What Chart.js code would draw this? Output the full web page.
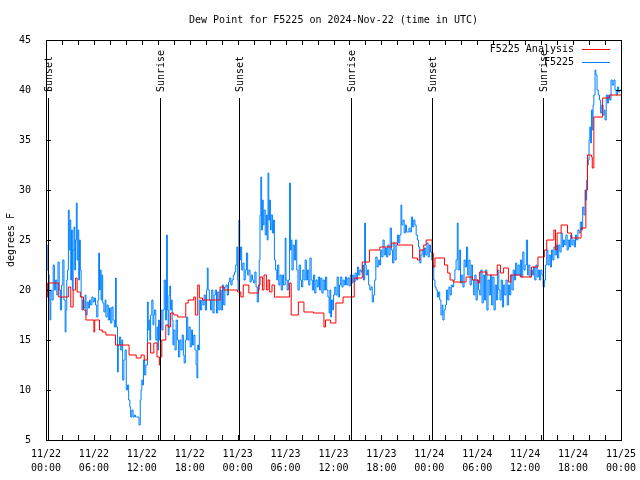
<!DOCTYPE html>
<html><head><meta charset="utf-8">
<script src="https://cdn.jsdelivr.net/npm/chart.js@4"></script>
<style>html,body{margin:0;padding:0;background:#fff}canvas{display:block}</style>
</head><body>
<canvas id="c" width="640" height="480"></canvas>
<script>
// Hours since 11/22 00:00 UTC and dew point (deg F) for the observed station
const obsHours = [
0.0,0.05,0.15,0.3,0.4,0.5,0.6,0.75,0.9,1.05,
1.2,1.35,1.5,1.65,1.8,1.95,2.1,2.25,2.4,2.5,
2.6,2.7,2.8,2.9,3.0,3.1,3.2,3.3,3.4,3.5,
3.6,3.7,3.8,3.9,4.0,4.1,4.2,4.3,4.4,4.5,
4.6,4.75,4.9,5.0,5.15,5.3,5.45,5.6,5.75,5.9,
6.05,6.2,6.35,6.5,6.6,6.7,6.8,6.9,7.0,7.1,
7.25,7.4,7.5,7.65,7.8,7.95,8.1,8.25,8.4,8.55,
8.7,8.8,8.95,9.05,9.2,9.35,9.5,9.6,9.75,9.9,
10.05,10.2,10.35,10.5,10.6,10.75,10.9,11.05,11.2,11.35,
11.5,11.65,11.8,11.9,12.0,12.1,12.2,12.35,12.5,12.7,
12.8,12.9,13.0,13.1,13.25,13.4,13.5,13.6,13.75,13.9,
14.0,14.1,14.2,14.35,14.5,14.65,14.8,14.95,15.1,15.2,
15.3,15.4,15.5,15.6,15.7,15.8,15.9,16.0,16.15,16.3,
16.45,16.6,16.75,16.9,17.05,17.2,17.3,17.45,17.6,17.75,
17.9,18.05,18.2,18.35,18.5,18.65,18.8,18.9,19.0,19.1,
19.2,19.35,19.5,19.65,19.8,19.95,20.1,20.2,20.3,20.45,
20.6,20.75,20.9,21.05,21.2,21.35,21.5,21.65,21.8,21.95,
22.1,22.25,22.4,22.55,22.7,22.85,23.0,23.15,23.3,23.45,
23.6,23.75,23.9,24.0,24.05,24.15,24.25,24.35,24.5,24.65,
24.8,24.95,25.1,25.25,25.4,25.55,25.7,25.85,26.0,26.15,
26.3,26.45,26.6,26.7,26.8,26.9,27.0,27.1,27.2,27.3,
27.45,27.6,27.7,27.8,27.9,28.0,28.1,28.2,28.35,28.5,
28.6,28.75,28.9,29.0,29.15,29.3,29.45,29.6,29.75,29.95,
30.05,30.2,30.35,30.5,30.6,30.7,30.8,30.95,31.1,31.25,
31.4,31.55,31.7,31.85,32.0,32.15,32.3,32.45,32.6,32.75,
32.9,33.05,33.2,33.35,33.5,33.65,33.8,33.95,34.1,34.25,
34.4,34.55,34.7,34.85,35.0,35.15,35.3,35.45,35.55,35.65,
35.75,35.9,36.0,36.15,36.3,36.45,36.6,36.75,36.9,37.05,
37.2,37.35,37.5,37.65,37.8,37.95,38.1,38.25,38.4,38.55,
38.7,38.85,39.0,39.15,39.3,39.45,39.6,39.75,39.9,40.0,
40.1,40.25,40.4,40.55,40.7,40.85,41.0,41.15,41.3,41.45,
41.6,41.75,41.9,42.05,42.2,42.35,42.5,42.65,42.8,42.95,
43.1,43.25,43.4,43.55,43.7,43.85,44.0,44.15,44.3,44.45,
44.55,44.7,44.85,45.0,45.15,45.3,45.45,45.6,45.75,45.9,
46.05,46.2,46.35,46.5,46.65,46.8,46.95,47.1,47.25,47.4,
47.55,47.7,47.85,48.0,48.15,48.3,48.4,48.55,48.7,48.85,
49.0,49.15,49.3,49.45,49.6,49.7,49.85,50.0,50.15,50.3,
50.45,50.6,50.75,50.9,51.05,51.2,51.35,51.5,51.6,51.75,
51.9,52.05,52.2,52.35,52.5,52.65,52.8,52.95,53.1,53.25,
53.4,53.55,53.7,53.85,54.0,54.15,54.3,54.45,54.6,54.75,
54.9,55.05,55.2,55.35,55.5,55.65,55.8,55.95,56.1,56.25,
56.4,56.55,56.7,56.85,57.0,57.15,57.3,57.45,57.6,57.75,
57.9,58.05,58.2,58.35,58.5,58.65,58.8,58.95,59.1,59.25,
59.4,59.55,59.7,59.85,60.0,60.15,60.3,60.45,60.6,60.75,
60.9,61.05,61.2,61.35,61.5,61.65,61.8,61.95,62.1,62.25,
62.4,62.55,62.7,62.85,63.0,63.15,63.3,63.45,63.6,63.75,
63.9,64.05,64.2,64.35,64.5,64.65,64.8,64.95,65.1,65.25,
65.4,65.55,65.7,65.85,66.0,66.15,66.3,66.45,66.6,66.75,
66.9,67.05,67.2,67.35,67.5,67.6,67.7,67.8,67.9,68.0,
68.1,68.2,68.3,68.4,68.5,68.6,68.75,68.85,69.0,69.15,
69.3,69.45,69.6,69.75,69.9,70.0,70.15,70.3,70.45,70.6,
70.75,70.9,71.1,71.25,71.4,71.55,71.7,71.85,72.0
];
const obsDew = [
22,24.5,22,21.5,19,17,20,19,22.5,20,
21,19.5,22.8,20,18,20.5,23,19,15.8,18,
21,22,28,24,27,21,26,20,24,26.3,
22,25,28.7,23,26,21,25,22,19.3,18,
19,18.2,19.5,17.5,18.8,18.2,19,18.5,19.3,18.8,
19.2,18.5,17.3,19,23.7,20,22,19,21.5,18.7,
17.8,19,17.3,18.5,17,18.2,16.7,18.3,17,16.3,
21.2,16.3,11.8,14.5,15.3,14,15,11,13,14,
10,10.5,9,8.3,7.3,8,7.3,7.5,7.3,7.3,
7.3,6.5,9,10,11,10.5,13,11.5,12.5,18.8,
16,17,15,17.5,19,16.5,17.5,18,15,16.3,
14,17,15,18,16,18,21,17,25.5,18,
15.5,19.5,20.4,18,19,17,14.5,16,14,17,
15,13.3,15,14,15.5,13.5,12.7,15,17.3,15,
16.3,14.3,16,14.5,15.5,14,12.5,11.2,14.5,14,
19,18,19,18.5,19.5,18,20,22.2,20,19,
18,20,17.7,19.5,20,17.7,19.8,18,20,18,
20.5,18.5,20.3,20.5,19.5,20.8,21.2,20.5,21,21.5,
21.8,22.5,24.3,21,20,27,23,24.3,22,22.7,
21,22,23.7,21.5,22,20.8,21.5,21,20.7,21.8,
20.3,18.8,20,23,27.5,31.3,26,29,26.5,28,
25.5,27.5,25,31.7,27,29,26,27.5,25.7,27,
23,22,21,22.5,20.5,21.5,20,21.5,20.5,25.2,
21,20,21,30.7,24,25,22,24.5,23,25,
22,20,22.5,21,20.3,22,21,23,21,22,
20.5,23.2,21,20,21.5,19.7,21,20.3,21.3,20,
21.2,19.7,21,20,21.3,20,19.3,17.7,20,17.3,
19,18,19.5,20.3,19.5,21.3,19.3,20.5,21.3,20.3,
21,20.5,21.3,20.5,21.2,20.4,21.5,20.7,21.5,20.8,
21.7,21,22.3,21.5,22,21.8,22.5,21,26.7,22.5,
21.5,22,20.5,20,20.3,18.8,19.5,21,23.3,22.3,
23,22.5,24,23.3,25,23.5,24.2,23.3,24.5,23.5,
26.2,24,22.7,24.7,23,24.5,25.5,24.7,25.5,28.5,
26.5,27,25.7,26.5,25.8,25.8,26.2,25.8,27.3,26.3,
27,26.5,25.5,25,24.3,22.7,23.5,24,23.3,24.2,
23.5,24.7,23.3,24.5,23.8,23,22.5,21,20.3,20,
19.3,19.8,19,17.5,18.5,17,18,18.5,20,19,
20.3,19.5,20.5,20.3,21,22,23,26.7,22,24,
20.7,21.5,20.3,23,22.3,24.3,21.5,23,20.5,22.5,
21,19.5,21.5,19,21,20,19.5,22,18.7,21.5,
19,22,18,21,19.5,21.5,18.5,21.3,18,20.5,
19,22,20,19,21,18.3,20.5,19.5,21,18.5,
20.5,19.5,21.5,20,22,21,22.7,21.5,22.5,21.5,
23,21.3,23.8,22,22.5,25,21.5,22.5,21.3,22,
21.5,22.3,21,22.5,21.3,22,21,22,21.5,20.3,
21,22.5,24,22.5,23.5,22.3,24,23,24.3,23.5,
24.5,23.2,24.5,23.8,25.7,24.3,25,24.5,25.5,24,
25,24.3,25.5,24.5,25,24.3,25.5,25,26,25.7,
26.8,26,28.3,27.5,30,29,31,32.5,33,35,
36.3,34.7,38,36,38.5,39.5,42,41.5,40,39.5,
39,37.7,38.5,37.5,38,37,39.5,38.7,39.5,39,
41,40.5,41,40,39.5,40.3,39.8,40,40
];
// Analysis: hour at which each value starts, and the value (deg F)
const anaHours = [
0,0.2,1.6,2.8,3.1,3.4,3.7,3.9,4.3,4.7,
5.0,6.0,6.1,6.7,7.05,7.5,8.7,10.4,11.3,11.9,
12.3,12.7,13.1,13.5,13.9,14.2,14.3,14.5,15.0,15.3,
15.6,16.0,16.5,17.5,17.8,18.5,18.7,19.0,19.2,19.6,
21.8,22.3,24.0,24.4,24.7,25.4,26.6,26.8,27.1,27.3,
27.6,27.8,28.0,28.3,28.6,30.5,30.7,31.6,32.3,33.5,
34.8,35.0,35.6,36.3,37.2,38.6,39.6,40.5,41.8,43.3,
44.0,45.9,46.5,46.8,47.3,47.6,48.35,48.5,48.7,49.9,
50.3,50.6,51.0,52.6,53.4,54.1,54.3,55.2,56.5,56.9,
57.3,57.9,58.2,59.4,60.8,61.6,62.4,62.7,63.6,63.8,
64.0,64.5,65.3,65.8,67.0,67.6,67.8,68.3,68.4,68.6,
69.7,70.6,72
];
const anaDew = [
19.3,20.7,19.3,20.3,18.3,20,21.2,19.8,19.3,18,
17,15.8,17,16,15.8,15.5,14.5,13.5,13.2,13.5,
13,14.7,13.7,14.7,13.3,12.5,13.3,15,16.5,16.3,
17.7,17.5,17.3,18.7,19,19.3,17.5,20.5,19.2,19,
20.3,20,19.8,19.3,20.5,19.7,20.5,21.3,20,21.5,
20,21,19.8,20.5,19.3,20.7,17.5,18.8,17.8,17.7,
16.3,17,16.7,18.7,19.3,21.2,22.8,24,24.3,24.7,
24.5,23.2,23,24,24.5,25,23.7,22.3,23.2,22.5,
21.7,21,20.8,21.3,21,20.7,21.8,21.5,22.5,21.7,
22.2,20.8,21.5,21.3,22.3,23.3,24,25,26,24,
25.7,26.5,25.7,25.2,26.2,30,33.5,33.3,32.2,37.3,
39.2,39.5,39.5
];
const sunHours = [0.3, 14.25, 24.2, 38.2, 48.35, 62.25];
const sunLabels = ['Sunset','Sunrise','Sunset','Sunrise','Sunset','Sunrise'];
const xTickHours = [0,6,12,18,24,30,36,42,48,54,60,66,72];
const xTickDates = ['11/22','11/22','11/22','11/22','11/23','11/23','11/23','11/23','11/24','11/24','11/24','11/24','11/25'];
const xTickTimes = ['00:00','06:00','12:00','18:00','00:00','06:00','12:00','18:00','00:00','06:00','12:00','18:00','00:00'];
const yTicks = [5,10,15,20,25,30,35,40,45];
const titleText = 'Dew Point for F5225 on 2024-Nov-22 (time in UTC)';
const yTitle = 'degrees F';
const seriesNames = ['F5225 Analysis','F5225'];

const FONT = "'DejaVu Sans Mono', 'Liberation Mono', monospace";

const decor = {
  id: 'decor',
  afterDraw(chart) {
    const ctx = chart.ctx, a = chart.chartArea;
    const xs = chart.scales.x, ys = chart.scales.y;
    ctx.save();
    ctx.strokeStyle = '#000'; ctx.lineWidth = 1;
    // ticks
    ctx.beginPath();
    for (let h = 0; h <= 72; h += 2) {
      const px = Math.round(xs.getPixelForValue(h)) + 0.5;
      ctx.moveTo(px, a.bottom); ctx.lineTo(px, a.bottom - 5);
      ctx.moveTo(px, a.top); ctx.lineTo(px, a.top + 5);
    }
    yTicks.forEach(v => {
      const py = Math.round(ys.getPixelForValue(v)) + 0.5;
      ctx.moveTo(a.left, py); ctx.lineTo(a.left + 5, py);
      ctx.moveTo(a.right, py); ctx.lineTo(a.right - 5, py);
    });
    ctx.stroke();
    // frame
    ctx.strokeRect(Math.round(a.left) + 0.5, Math.round(a.top) + 0.5,
                   Math.round(a.right - a.left), Math.round(a.bottom - a.top));
    ctx.font = '10px ' + FONT;
    ctx.fillStyle = '#000';
    // x tick labels
    ctx.textAlign = 'center'; ctx.textBaseline = 'middle';
    xTickHours.forEach((h, i) => {
      const px = xs.getPixelForValue(h);
      ctx.fillText(xTickDates[i], px, a.bottom + 14);
      ctx.fillText(xTickTimes[i], px, a.bottom + 28);
    });
    // sunrise / sunset lines
    sunHours.forEach((h, i) => {
      const px = Math.round(xs.getPixelForValue(h)) + 0.5;
      ctx.beginPath();
      ctx.moveTo(px, 98); ctx.lineTo(px, a.bottom);
      ctx.stroke();
      ctx.save();
      ctx.translate(px + 1, 92);
      ctx.rotate(-Math.PI / 2);
      ctx.textAlign = 'left'; ctx.textBaseline = 'middle';
      ctx.fillText(sunLabels[i], 0, 0);
      ctx.restore();
    });
    // legend
    const cols = ['#ff0000', '#0080ff'];
    ctx.textAlign = 'right'; ctx.textBaseline = 'middle';
    seriesNames.forEach((n, i) => {
      const y = 49 + i * 13;
      ctx.fillStyle = '#000';
      ctx.fillText(n, 574, y);
      ctx.strokeStyle = cols[i];
      ctx.beginPath();
      ctx.moveTo(582, y + 0.5); ctx.lineTo(610, y + 0.5);
      ctx.stroke();
    });
    // title
    ctx.fillStyle = '#000';
    ctx.textAlign = 'center'; ctx.textBaseline = 'middle';
    ctx.fillText(titleText, (a.left + a.right) / 2, 20);
    // y title
    ctx.save();
    ctx.translate(11, (a.top + a.bottom) / 2);
    ctx.rotate(-Math.PI / 2);
    ctx.fillText(yTitle, 0, 0);
    ctx.restore();
    ctx.restore();
  }
};

new Chart(document.getElementById('c'), {
  type: 'line',
  data: {
    datasets: [
      {
        label: seriesNames[0],
        data: anaHours.map((h, i) => ({x: h, y: anaDew[i]})),
        borderColor: '#ff0000', borderWidth: 1, pointRadius: 0,
        stepped: true, order: 0
      },
      {
        label: seriesNames[1],
        data: obsHours.map((h, i) => ({x: h, y: obsDew[i]})),
        borderColor: '#0080ff', borderWidth: 1, pointRadius: 0,
        stepped: true, order: 1
      }
    ]
  },
  options: {
    responsive: false,
    animation: false,
    devicePixelRatio: 1,
    layout: {padding: {left: 0, right: 19, top: 40, bottom: 0}},
    plugins: {legend: {display: false}, tooltip: {enabled: false}, title: {display: false}},
    scales: {
      x: {
        type: 'linear', min: 0, max: 72,
        grid: {display: false}, border: {display: false},
        ticks: {display: false},
        afterFit(s) { s.height = 40; }
      },
      y: {
        min: 5, max: 45,
        grid: {display: false}, border: {display: false},
        afterFit(s) { s.width = 46; },
        afterBuildTicks(s) { s.ticks = yTicks.map(v => ({value: v})); },
        ticks: {padding: 7, color: '#000', font: {family: FONT, size: 10}}
      }
    }
  },
  plugins: [decor]
});
</script>
</body></html>
